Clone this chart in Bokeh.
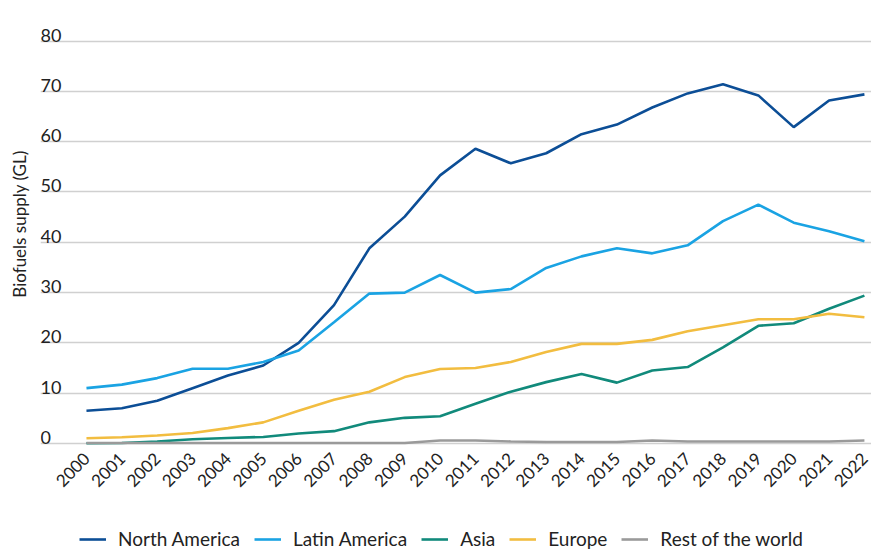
import math
from bokeh.plotting import figure
from bokeh.layouts import column
from bokeh.models import Legend, LegendItem, Range1d, FixedTicker, ColumnDataSource
from bokeh.core.properties import value
from bokeh.embed import file_html
from bokeh.resources import INLINE

years = list(range(2000, 2023))
north_america = [6.5, 7.0, 8.5, 11.0, 13.5, 15.5, 20.0, 27.5, 38.8, 45.1, 53.3, 58.6, 55.7, 57.7,
                 61.5, 63.4, 66.8, 69.6, 71.4, 69.2, 62.9, 68.2, 69.4]
latin_america = [11.0, 11.7, 13.0, 14.85, 14.85, 16.2, 18.5, 24.1, 29.8, 30.0, 33.5, 30.0, 30.7, 34.9,
                 37.2, 38.8, 37.8, 39.4, 44.2, 47.5, 43.9, 42.2, 40.2]
asia = [0.05, 0.1, 0.4, 0.85, 1.1, 1.3, 2.0, 2.45, 4.2, 5.1, 5.4, 7.9, 10.3, 12.2,
        13.8, 12.1, 14.5, 15.2, 19.1, 23.4, 23.9, 26.8, 29.4]
europe = [1.05, 1.25, 1.6, 2.1, 3.05, 4.2, 6.5, 8.7, 10.3, 13.2, 14.8, 15.0, 16.2, 18.2,
          19.8, 19.8, 20.6, 22.3, 23.5, 24.7, 24.7, 25.8, 25.1]
rest_of_world = [0.1, 0.1, 0.1, 0.1, 0.1, 0.1, 0.1, 0.1, 0.1, 0.1, 0.6, 0.6, 0.4, 0.3,
                 0.3, 0.3, 0.6, 0.4, 0.4, 0.4, 0.4, 0.4, 0.6]

series_names = ["North America", "Latin America", "Asia", "Europe", "Rest of the world"]
series_values = [north_america, latin_america, asia, europe, rest_of_world]
series_colors = ["#0C4E96", "#1AA3E3", "#118A7B", "#F2BD40", "#9A9A9A"]

y_ticks = [0, 10, 20, 30, 40, 50, 60, 70, 80]
y_tick_labels = [str(t) for t in y_ticks]
y_title = "Biofuels supply (GL)"

FONT = "Lato"
TEXT_COLOR = "#222222"

x_start, x_end = 1998.7, 2022.2
y_start, y_end = -0.4, 87.67

p = figure(width=871, height=515, output_backend="svg", toolbar_location=None,
           x_range=Range1d(x_start, x_end), y_range=Range1d(y_start, y_end),
           min_border_left=40, min_border_right=0, min_border_top=2, min_border_bottom=70)
p.outline_line_color = None
p.background_fill_color = "white"
p.border_fill_color = "white"

# grid
p.xgrid.grid_line_color = None
p.ygrid.ticker = FixedTicker(ticks=y_ticks)
p.ygrid.grid_line_color = "#D0D0D0"
p.ygrid.grid_line_width = 1.5

# y axis: only the title; tick labels drawn above grid lines
p.yaxis.ticker = FixedTicker(ticks=[])
p.yaxis.major_tick_line_color = None
p.yaxis.minor_tick_line_color = None
p.yaxis.axis_line_color = None
p.yaxis.axis_label = y_title
p.yaxis.axis_label_text_font = FONT
p.yaxis.axis_label_text_font_size = "17px"
p.yaxis.axis_label_text_font_style = "normal"
p.yaxis.axis_label_text_color = TEXT_COLOR
p.yaxis.axis_label_standoff = 11

ysrc = ColumnDataSource(dict(x=[x_start] * len(y_ticks), y=y_ticks, t=y_tick_labels))
p.text(x="x", y="y", text="t", source=ysrc, text_font=value(FONT), text_font_size="18px",
       text_color=TEXT_COLOR, text_align="left", text_baseline="alphabetic", y_offset=-6)

# x axis
p.xaxis.ticker = FixedTicker(ticks=years)
p.xaxis.major_label_orientation = math.pi / 4
p.xaxis.major_label_text_font = FONT
p.xaxis.major_label_text_font_size = "17px"
p.xaxis.major_label_text_color = TEXT_COLOR
p.xaxis.major_tick_line_color = None
p.xaxis.minor_tick_line_color = None
p.xaxis.axis_line_color = None
p.xaxis.major_label_standoff = 4

for name, vals, col in zip(series_names, series_values, series_colors):
    p.line(years, vals, line_color=col, line_width=2.6)

# legend strip below the chart (legend-only renderers hold no visible data)
lg = figure(width=871, height=35, output_backend="svg", toolbar_location=None,
            x_range=Range1d(0, 1), y_range=Range1d(0, 1),
            min_border_left=0, min_border_right=0, min_border_top=0, min_border_bottom=0)
lg.axis.visible = False
lg.grid.visible = False
lg.outline_line_color = None
items = []
for name, col in zip(series_names, series_colors):
    src = ColumnDataSource(dict(x=[float("nan")], y=[float("nan")]))
    r = lg.line(x="x", y="y", source=src, line_color=col, line_width=2.6)
    items.append(LegendItem(label=name, renderers=[r]))
legend = Legend(items=items, orientation="horizontal", location=(39, 0),
                label_text_font=FONT, label_text_font_size="19px", label_text_color=TEXT_COLOR,
                glyph_width=27, glyph_height=16, label_standoff=12, spacing=14,
                padding=2, margin=0, border_line_color=None, background_fill_alpha=0)
lg.add_layout(legend)

layout = column(p, lg, spacing=0)
open("out.html", "w").write(file_html(layout, INLINE))
